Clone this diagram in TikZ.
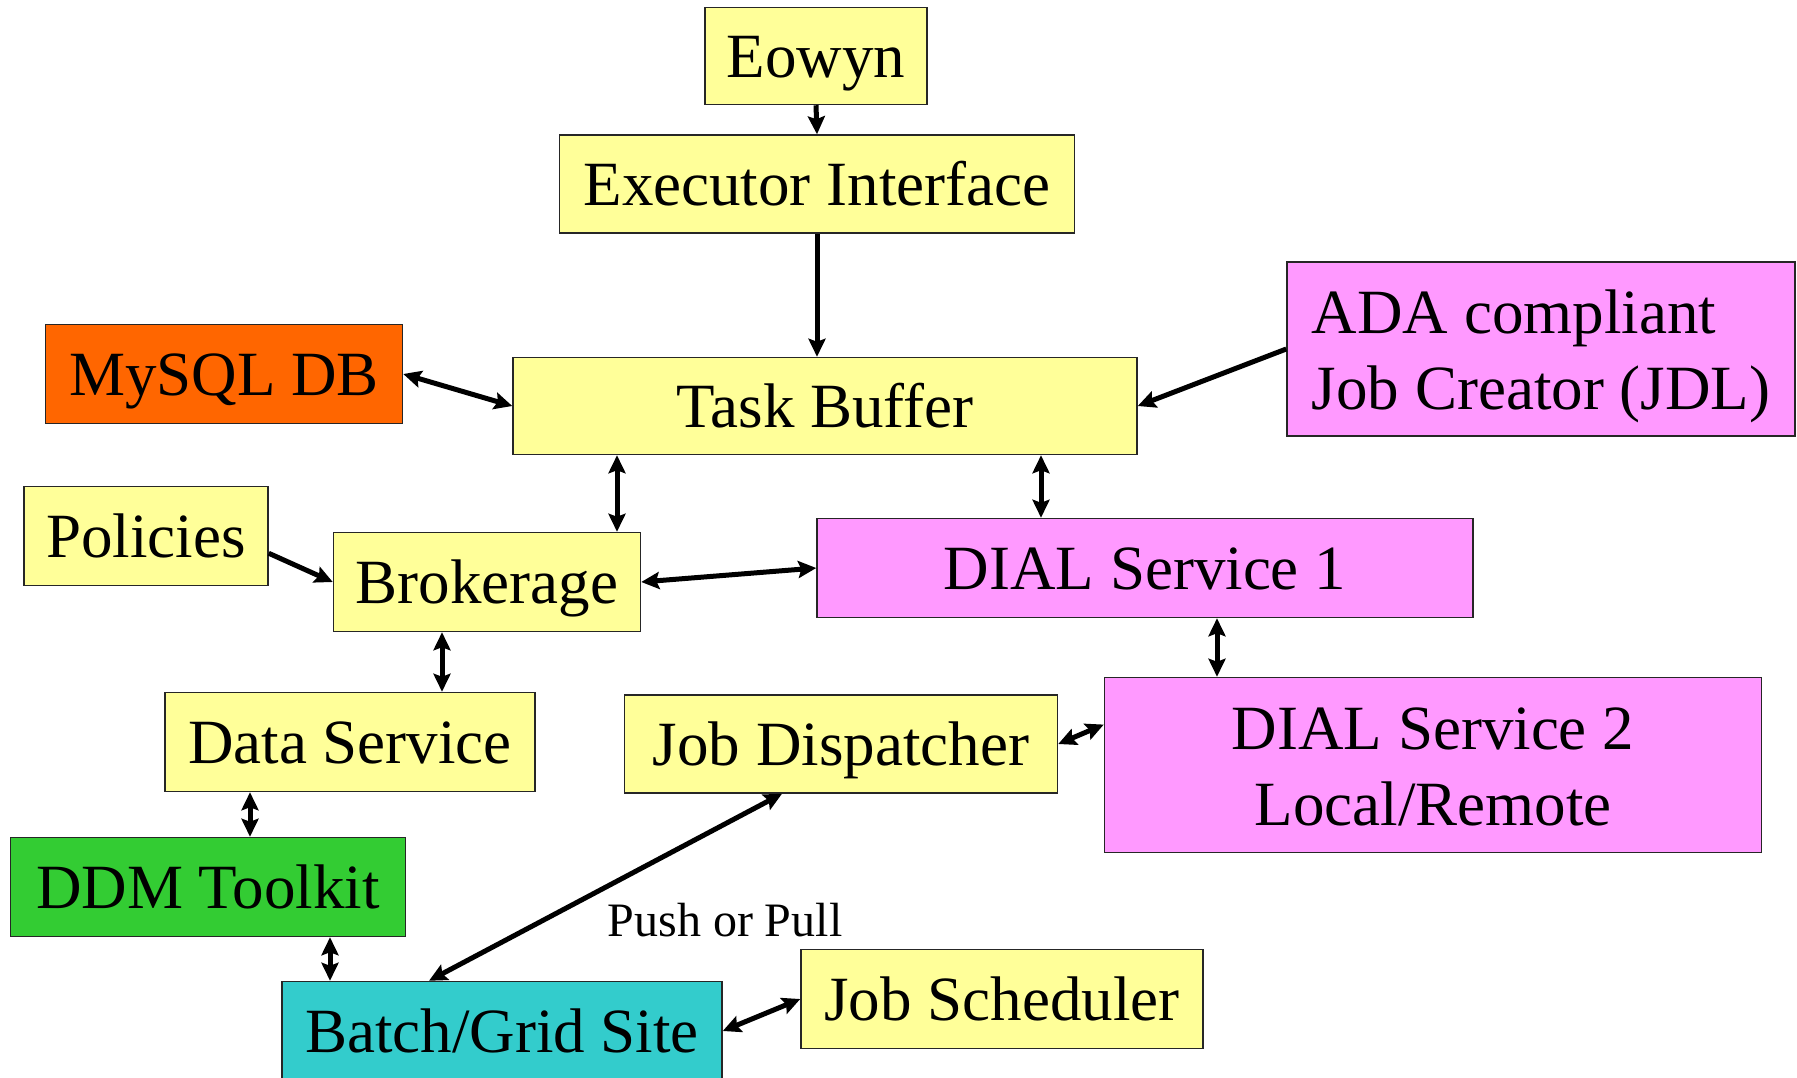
\documentclass[tikz,border=0pt]{standalone}
\usepackage{fontspec}
\setmainfont{Liberation Serif}
\usetikzlibrary{arrows.meta}

\definecolor{boxyellow}{HTML}{FFFF99}
\definecolor{boxorange}{HTML}{FF6600}
\definecolor{boxpink}{HTML}{FF99FF}
\definecolor{boxgreen}{HTML}{33CC33}
\definecolor{boxcyan}{HTML}{33CCCC}

\begin{document}
\begin{tikzpicture}[x=1pt, y=-1pt,
		box/.style={draw=black!85, line width=1.5pt, text=black, shape=rectangle, inner sep=0pt, text height=42pt, text depth=0pt, font=\fontsize{63}{76}\selectfont},
		twoline/.style={text height=120pt, text depth=0pt},
		link/.style={line width=5pt},
		>={Stealth[length=18pt, width=17pt, inset=3pt]}]
	\useasboundingbox (0,0) rectangle (1797,1077);

	\node[box, fill=boxyellow, minimum width=222pt, minimum height=97pt] (eowyn) at (816,56) {Eowyn};
	\node[box, fill=boxyellow, minimum width=515pt, minimum height=98pt] (exec_if) at (817,184) {Executor Interface};
	\node[box, fill=boxyellow, minimum width=624pt, minimum height=97pt] (task_buf) at (825,406) {Task Buffer};
	\node[box, fill=boxorange, minimum width=357pt, minimum height=99pt] (mysql_db) at (224,374) {MySQL DB};
	\node[box, twoline, fill=boxpink, minimum width=508pt, minimum height=174pt, align=left] (ada_jc) at (1541,349) {ADA compliant\\Job Creator (JDL)};
	\node[box, fill=boxyellow, minimum width=244pt, minimum height=99pt] (policies) at (146,536) {Policies};
	\node[box, fill=boxyellow, minimum width=307pt, minimum height=99pt] (brokerage) at (487,582) {Brokerage};
	\node[box, fill=boxpink, minimum width=656pt, minimum height=99pt] (dial_1) at (1145,568) {DIAL Service 1};
	\node[box, fill=boxyellow, minimum width=370pt, minimum height=99pt] (data_srv) at (350,742) {Data Service};
	\node[box, fill=boxyellow, minimum width=433pt, minimum height=98pt] (job_disp) at (841,744) {Job Dispatcher};
	\node[box, twoline, fill=boxpink, minimum width=657pt, minimum height=175pt, align=center] (dial_2) at (1433,765) {DIAL Service 2\\Local/Remote};
	\node[box, fill=boxgreen, minimum width=395pt, minimum height=99pt] (ddm_kit) at (208,887) {DDM Toolkit};
	\node[box, fill=boxcyan, minimum width=440pt, minimum height=99pt] (batch_site) at (502,1031) {Batch/Grid Site};
	\node[box, fill=boxyellow, minimum width=402pt, minimum height=99pt] (job_sched) at (1002,999) {Job Scheduler};

	\node[text=black, anchor=base, inner sep=0pt, font=\fontsize{48}{58}\selectfont] (push_pull) at (725,936) {Push or Pull};

	\draw[link, ->] (eowyn.south) -- (exec_if.north);
	\draw[link, ->] (exec_if.south) -- (task_buf.north -| exec_if.south);
	\draw[link, <->] (mysql_db.east) -- (task_buf.west);
	\draw[link, ->] (ada_jc.west) -- (task_buf.east);
	\draw[link, <->] ([xshift=130pt]brokerage.north |- task_buf.south) -- ([xshift=130pt]brokerage.north);
	\draw[link, <->] ([xshift=216pt]task_buf.south) -- ([xshift=216pt]task_buf.south |- dial_1.north);
	\draw[link, ->] (policies.-8) -- (brokerage.west);
	\draw[link, <->] (brokerage.east) -- (dial_1.west);
	\draw[link, <->] ([xshift=-45pt]brokerage.south) -- ([xshift=-45pt]brokerage.south |- data_srv.north);
	\draw[link, <->] ([xshift=72pt]dial_1.south) -- ([xshift=72pt]dial_1.south |- dial_2.north);
	\draw[link, <->] (job_disp.east) -- (dial_2.173);
	\draw[link, <->] ([xshift=-100pt]data_srv.south) -- ([xshift=-100pt]data_srv.south |- ddm_kit.north);
	\draw[link, <->] ([xshift=122pt]ddm_kit.south) -- ([xshift=122pt]ddm_kit.south |- batch_site.north);
	\draw[link, <->] ([xshift=-59pt]job_disp.south) -- ([xshift=-73pt]batch_site.north);
	\draw[link, <->] (batch_site.east) -- (job_sched.west);
\end{tikzpicture}
\end{document}
